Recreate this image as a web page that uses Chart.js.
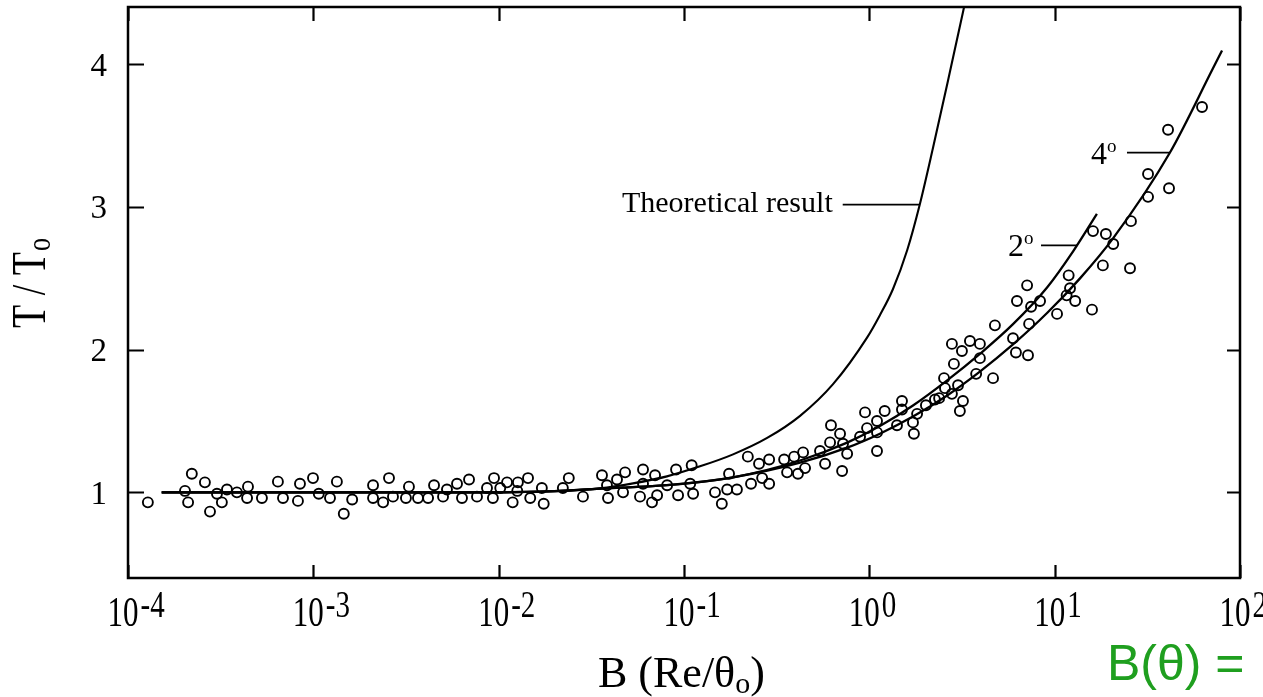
<!DOCTYPE html>
<html>
<head>
<meta charset="utf-8">
<script src="https://cdn.jsdelivr.net/npm/chart.js@4.4.1/dist/chart.umd.min.js"></script>
<style>
html,body{margin:0;padding:0;background:#fff;}
#wrap{position:relative;width:1263px;height:697px;}
</style>
</head>
<body>
<div id="wrap"><canvas id="c"></canvas></div>
<script>
// ---- data ----
const xTickExps = [-4, -3, -2, -1, 0, 1, 2];
const yTicks = [1, 2, 3, 4];

const expB = [1.28e-4,2.03e-4,2.11e-4,2.21e-4,2.60e-4,2.77e-4,3.02e-4,3.21e-4,3.42e-4,3.87e-4,
  4.44e-4,4.39e-4,5.28e-4,6.44e-4,6.86e-4,8.47e-4,8.26e-4,9.96e-4,1.07e-3,1.23e-3,
  1.34e-3,1.46e-3,1.62e-3,2.10e-3,2.10e-3,2.38e-3,2.56e-3,2.69e-3,3.16e-3,3.28e-3,
  3.67e-3,4.16e-3,4.48e-3,5.01e-3,5.26e-3,5.96e-3,6.34e-3,6.92e-3,7.64e-3,8.65e-3,
  9.44e-3,9.31e-3,1.02e-2,1.11e-2,1.19e-2,1.26e-2,1.27e-2,1.44e-2,1.48e-2,1.71e-2,
  1.75e-2,2.22e-2,2.39e-2,2.85e-2,3.61e-2,3.84e-2,3.89e-2,4.35e-2,4.81e-2,4.69e-2,
  5.79e-2,6.01e-2,6.01e-2,6.72e-2,6.98e-2,7.16e-2,8.11e-2,9.06e-2,9.29e-2,0.108,
  0.110,0.112,0.147,0.160,0.171,0.175,0.193,0.221,0.230,0.254,
  0.264,0.288,0.288,0.347,0.360,0.393,0.412,0.439,0.450,0.542,
  0.577,0.621,0.614,0.695,0.713,0.721,0.759,0.891,0.972,1.10,
  1.10,1.41,0.948,1.10,1.21,1.50,1.50,1.72,1.74,1.81,
  2.02,2.26,2.38,2.53,2.56,2.79,2.86,3.01,3.08,3.20,
  2.79,3.16,3.49,3.95,3.95,3.77,4.65,4.76,5.96,6.18,
  6.26,7.10,7.28,7.18,7.46,8.34,10.3,11.6,11.9,12.9,
  12.1,15.9,16.1,18.9,20.7,18.2,25.5,25.8,31.9,31.9,
  41.4,40.9,62.4];
const expT = [0.93,1.01,0.93,1.13,1.07,0.865,0.99,0.93,1.02,1.00,
  1.04,0.96,0.96,1.075,0.96,1.06,0.94,1.10,0.99,0.96,
  1.075,0.85,0.95,1.05,0.96,0.93,1.10,0.97,0.96,1.04,
  0.96,0.96,1.05,0.97,1.02,1.06,0.96,1.09,0.97,1.03,
  1.10,0.96,1.03,1.07,0.93,1.01,1.07,1.10,0.96,1.03,
  0.92,1.03,1.10,0.97,1.12,1.05,0.96,1.09,1.14,1.00,
  0.97,1.16,1.06,0.93,1.12,0.98,1.05,1.16,0.98,1.06,
  1.19,0.99,1.00,0.92,1.02,1.13,1.02,1.25,1.06,1.20,
  1.10,1.23,1.06,1.23,1.14,1.25,1.13,1.28,1.17,1.29,
  1.20,1.47,1.35,1.41,1.15,1.34,1.27,1.39,1.45,1.50,
  1.29,1.47,1.56,1.42,1.57,1.64,1.58,1.49,1.41,1.55,
  1.61,1.65,1.66,1.80,1.73,1.69,1.90,1.75,1.57,1.64,
  2.04,1.99,2.06,2.04,1.94,1.83,1.80,2.17,2.08,1.98,
  2.34,2.45,2.18,1.96,2.30,2.34,2.25,2.38,2.52,2.34,
  2.43,2.28,2.83,2.81,2.74,2.59,2.57,2.90,3.07,3.23,
  3.13,3.54,3.70];

const theoryB = [1.52e-4,1e-3,5e-3,1e-2,2e-2,3.52e-2,5.31e-2,8.09e-2,0.122,0.184,0.281,0.423,0.637,0.972,1.14,1.34,1.60,1.87,2.20,2.72,3.20,3.32];
const theoryT = [1.0,1.0,1.0,1.0,1.008,1.028,1.063,1.112,1.182,1.266,1.381,1.536,1.758,2.084,2.241,2.423,2.696,3.015,3.407,3.944,4.363,4.46];

const deg2B = [1.52e-4,1e-3,5e-3,1e-2,2e-2,3.52e-2,8.09e-2,0.184,0.423,0.759,1.14,1.72,2.63,3.95,5.96,9.10,12.6,16.9];
const deg2T = [1.0,1.0,1.0,1.0,1.008,1.026,1.050,1.105,1.223,1.348,1.464,1.608,1.784,1.970,2.178,2.435,2.690,2.951];

const deg4B = [1.52e-4,1e-3,5e-3,1e-2,2e-2,3.52e-2,8.09e-2,0.184,0.423,0.759,1.14,1.72,2.63,3.95,5.96,9.10,13.7,20.7,41.9,71.4,80.0];
const deg4T = [1.0,1.0,1.0,1.0,1.008,1.026,1.050,1.105,1.208,1.313,1.411,1.531,1.679,1.846,2.036,2.256,2.499,2.781,3.381,3.969,4.095];

// annotation anchors (data coordinates on curves)
const theoryAnchor = {B: 1.87, T: 3.015};
const deg2Anchor = {B: 13.2, T: 2.73};
const deg4Anchor = {B: 41.9, T: 3.38};

const pts = (bs, ts) => bs.map((b, i) => ({x: b, y: ts[i]}));

const SERIF = "'Liberation Serif', 'Times New Roman', serif";

function sText(ctx, text, x, y, size, sy, align, family) {
  ctx.save();
  ctx.translate(x, y);
  ctx.scale(1, sy);
  ctx.font = size + 'px ' + (family || SERIF);
  ctx.textAlign = align || 'left';
  ctx.textBaseline = 'alphabetic';
  ctx.fillText(text, 0, 0);
  ctx.restore();
}

const decor = {
  id: 'decor',
  afterDraw(chart) {
    const ctx = chart.ctx;
    const a = chart.chartArea;
    const xs = chart.scales.x, ys = chart.scales.y;
    ctx.save();
    ctx.strokeStyle = '#000';
    ctx.fillStyle = '#000';
    // frame
    ctx.lineWidth = 2.5;
    ctx.strokeRect(a.left, a.top, a.right - a.left, a.bottom - a.top);
    // x ticks (inward, mirrored)
    ctx.lineWidth = 2.2;
    xTickExps.forEach(e => {
      const px = Math.round(xs.getPixelForValue(Math.pow(10, e))) + 0.5;
      ctx.beginPath();
      ctx.moveTo(px, a.bottom); ctx.lineTo(px, a.bottom - 13);
      ctx.moveTo(px, a.top); ctx.lineTo(px, a.top + 14);
      ctx.stroke();
    });
    yTicks.forEach(v => {
      const py = Math.round(ys.getPixelForValue(v)) + 0.5;
      ctx.beginPath();
      ctx.moveTo(a.left, py); ctx.lineTo(a.left + 16, py);
      ctx.moveTo(a.right, py); ctx.lineTo(a.right - 13, py);
      ctx.stroke();
    });
    // y tick labels
    yTicks.forEach(v => {
      const py = ys.getPixelForValue(v);
      sText(ctx, String(v), a.left - 21, py + 11.5, 33, 1, 'right');
    });
    // x tick labels 10^e
    xTickExps.forEach(e => {
      const px = xs.getPixelForValue(Math.pow(10, e));
      ctx.font = '31px ' + SERIF;
      const wb = ctx.measureText('10').width;
      const cx = px - 5;
      sText(ctx, '10', cx - wb / 2, a.bottom + 48, 31, 1.33, 'left');
      sText(ctx, String(e), cx + wb / 2 + 2, a.bottom + 39, 29, 1.28, 'left');
    });
    // x title: B (Re/θo)
    ctx.font = '44px ' + SERIF;
    let tx = 598, ty = a.bottom + 109;
    const t1 = 'B (Re/\u03B8';
    sText(ctx, t1, tx, ty, 44, 1, 'left');
    tx += ctx.measureText(t1).width;
    ctx.font = '30px ' + SERIF;
    sText(ctx, 'o', tx, ty + 6, 30, 1, 'left');
    tx += ctx.measureText('o').width;
    sText(ctx, ')', tx, ty, 44, 1, 'left');
    // y title: T / To (rotated)
    ctx.save();
    ctx.translate(45, 328);
    ctx.rotate(-Math.PI / 2);
    ctx.font = '38px ' + SERIF;
    const yt = 'T / T';
    sText(ctx, yt, 0, 0, 38, 1.3, 'left');
    const yw = ctx.measureText(yt).width;
    sText(ctx, 'o', yw + 1, 5, 26, 1.3, 'left');
    ctx.restore();
    // curve annotations
    ctx.lineWidth = 1.8;
    let ax = xs.getPixelForValue(theoryAnchor.B), ay = ys.getPixelForValue(theoryAnchor.T);
    ctx.beginPath(); ctx.moveTo(ax - 77, ay); ctx.lineTo(ax, ay); ctx.stroke();
    sText(ctx, 'Theoretical result', ax - 87, ay + 7, 30, 1, 'right');

    ax = xs.getPixelForValue(deg2Anchor.B); ay = ys.getPixelForValue(deg2Anchor.T);
    ctx.beginPath(); ctx.moveTo(ax - 36, ay); ctx.lineTo(ax, ay); ctx.stroke();
    sText(ctx, '2', ax - 69, ay + 11, 32, 1, 'left');
    sText(ctx, 'o', ax - 53, ay - 1, 19, 1, 'left');

    ax = xs.getPixelForValue(deg4Anchor.B); ay = ys.getPixelForValue(deg4Anchor.T);
    ctx.beginPath(); ctx.moveTo(ax - 43, ay); ctx.lineTo(ax, ay); ctx.stroke();
    sText(ctx, '4', ax - 79, ay + 11, 32, 1, 'left');
    sText(ctx, 'o', ax - 63, ay - 1, 19, 1, 'left');

    // green caption
    ctx.fillStyle = '#1f9f1f';
    sText(ctx, 'B(\u03B8) =', 1107, 680, 50, 1, 'left', "'Liberation Sans', Arial, sans-serif");
    ctx.restore();
  }
};

const lineDs = (label, bs, ts, w) => ({
  type: 'line', label, data: pts(bs, ts),
  borderColor: '#000', borderWidth: w, pointRadius: 0, fill: false,
  cubicInterpolationMode: 'monotone'
});

new Chart(document.getElementById('c'), {
  type: 'scatter',
  data: {
    datasets: [
      lineDs('Theoretical result', theoryB, theoryT, 2.1),
      lineDs('2°', deg2B, deg2T, 2.3),
      lineDs('4°', deg4B, deg4T, 2.3),
      {
        type: 'scatter', label: 'Experiment', data: pts(expB, expT),
        pointStyle: 'circle', pointRadius: 5, borderWidth: 1.9,
        borderColor: '#000', backgroundColor: 'rgba(255,255,255,0)'
      }
    ]
  },
  options: {
    responsive: true,
    maintainAspectRatio: false,
    animation: false,
    devicePixelRatio: 1,
    layout: {padding: {left: 120, right: 23, top: 7, bottom: 111}},
    plugins: {legend: {display: false}, tooltip: {enabled: false}, title: {display: false}},
    scales: {
      x: {type: 'logarithmic', min: 1e-4, max: 1e2,
          ticks: {display: false}, grid: {display: false}, border: {display: false}},
      y: {type: 'linear', min: 0.4, max: 4.4,
          ticks: {display: false}, grid: {display: false}, border: {display: false}}
    }
  },
  plugins: [decor]
});
</script>
</body>
</html>
